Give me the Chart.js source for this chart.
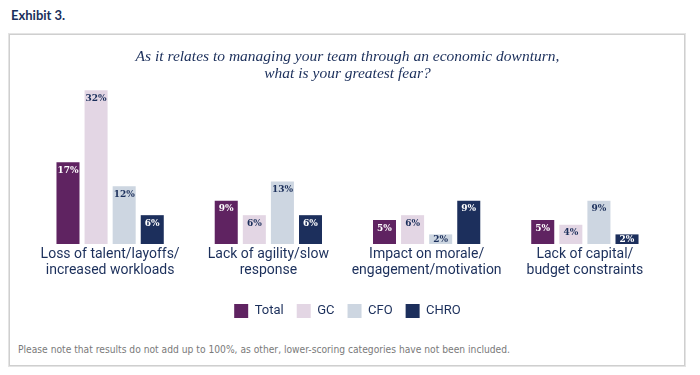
<!DOCTYPE html>
<html>
<head>
<meta charset="utf-8">
<script src="https://cdn.jsdelivr.net/npm/chart.js@4.4.1/dist/chart.umd.min.js"></script>
<style>
  body { margin: 0; background: #fff; width: 700px; height: 375px; position: relative; overflow: hidden; }
  #exhibit { position: absolute; left: 11px; top: 7px; font: bold 13px Lato, sans-serif; color: #1b2f5b; }
  #box { position: absolute; left: 9px; top: 34px; width: 674px; height: 330px; border: 1px solid #cfcfcf; box-shadow: 0 0 0 1px #e4e4e4; }
  #note { position: absolute; left: 18px; top: 344px; font: 10.2px "DejaVu Sans Condensed", sans-serif; color: #7a7a7a; }
  #chart { position: absolute; left: 0; top: 0; }
</style>
</head>
<body>
<div id="exhibit">Exhibit 3.</div>
<div id="box"></div>
<div id="note">Please note that results do not add up to 100%, as other, lower-scoring categories have not been included.</div>
<canvas id="chart" width="700" height="375"></canvas>
<script>
const categories = [
  ['Loss of talent/layoffs/', 'increased workloads'],
  ['Lack of agility/slow', 'response'],
  ['Impact on morale/', 'engagement/motivation'],
  ['Lack of capital/', 'budget constraints']
];
const total = [17, 9, 5, 5];
const gc = [32, 6, 6, 4];
const cfo = [12, 13, 2, 9];
const chro = [6, 6, 9, 2];

const navy = '#1b2f5b';

// percent labels drawn inside the top of each bar
const barLabels = {
  id: 'barLabels',
  afterDatasetsDraw(chart) {
    const ctx = chart.ctx;
    ctx.save();
    ctx.font = 'bold 10px "DejaVu Serif Condensed", serif';
    ctx.textAlign = 'center';
    ctx.textBaseline = 'middle';
    chart.data.datasets.forEach((ds, i) => {
      chart.getDatasetMeta(i).data.forEach((bar, j) => {
        const mid = (bar.y + bar.base) / 2;
        const y = Math.min(bar.y + 8, mid);
        ctx.fillStyle = ds.labelColor;
        ctx.fillText(ds.data[j] + '%', bar.x, y);
      });
    });
    ctx.restore();
  }
};

new Chart(document.getElementById('chart'), {
  type: 'bar',
  data: {
    labels: categories,
    datasets: [
      { label: 'Total', data: total, backgroundColor: '#5f2361', labelColor: '#ffffff' },
      { label: 'GC', data: gc, backgroundColor: '#e3d6e4', labelColor: navy },
      { label: 'CFO', data: cfo, backgroundColor: '#cdd6e1', labelColor: navy },
      { label: 'CHRO', data: chro, backgroundColor: '#1c2f5c', labelColor: '#ffffff' }
    ]
  },
  options: {
    responsive: false,
    animation: false,
    layout: { padding: { top: 40, left: 31, right: 36, bottom: 47 } },
    datasets: { bar: { categoryPercentage: 0.71, barPercentage: 0.82 } },
    scales: {
      x: {
        grid: { display: false, drawTicks: false },
        border: { display: false },
        ticks: { color: navy, font: { family: 'Roboto', size: 14, lineHeight: 1.143 }, padding: 2 },
        afterFit: (scale) => { scale.height = 47; }
      },
      y: { display: false, min: 0, max: 33.7 }
    },
    plugins: {
      title: {
        display: true,
        text: ['As it relates to managing your team through an economic downturn,', 'what is your greatest fear?'],
        color: navy,
        font: { family: '"Liberation Serif"', size: 15.5, style: 'italic', weight: 'normal', lineHeight: 1.1 },
        padding: { top: 8, bottom: 0 }
      },
      legend: {
        position: 'bottom',
        labels: { color: navy, boxWidth: 14, boxHeight: 14, padding: 13, font: { family: 'Roboto', size: 13 } }
      },
      tooltip: { enabled: false }
    }
  },
  plugins: [barLabels]
});
</script>
</body>
</html>
